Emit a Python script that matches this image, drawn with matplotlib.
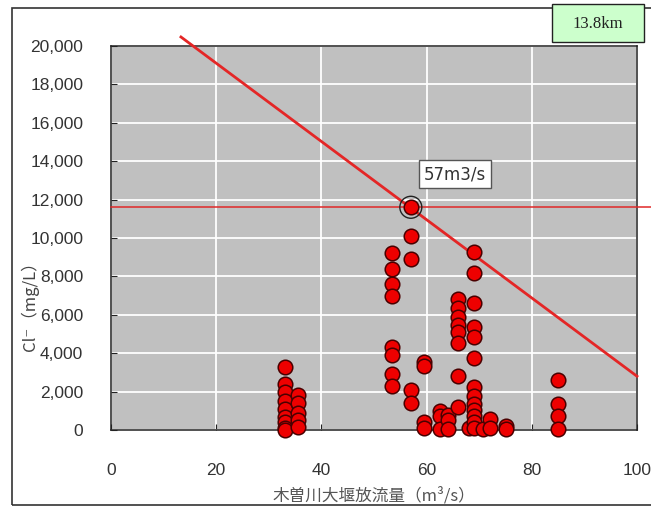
import matplotlib.pyplot as plt
from matplotlib.patches import Rectangle

plt.rcParams['font.family'] = ['Liberation Sans', 'DejaVu Sans']

# discharge at Kiso River weir (m3/s) vs chloride (mg/L)
flow = ([33] * 9 + [35.5] * 5 + [53.5] * 8 + [57] * 5 + [59.5] * 4 +
        [62.5] * 3 + [64] * 3 + [66] * 8 + [68] + [69] * 13 + [70.7] +
        [72] * 2 + [75] * 2 + [85] * 4)
chloride = [3300, 2400, 2000, 1500, 1100, 700, 400, 100, 0,
            1800, 1400, 900, 500, 150,
            9200, 8400, 7600, 7000, 4300, 3900, 2900, 2300,
            11600, 10100, 8900, 2100, 1400,
            3550, 3350, 400, 100,
            1000, 750, 50,
            800, 500, 50,
            6800, 6350, 5900, 5450, 5100, 4550, 2800, 1200,
            100,
            9250, 8200, 6600, 5350, 4850, 3750, 2250, 1750, 1350, 1050, 750, 400, 100,
            50,
            550, 100,
            200, 50,
            2600, 1350, 750, 50]

# envelope line and threshold
trend_x = [13.3, 100]
trend_y = [20470, 2800]
limit_flow = 57
limit_cl = 11600
limit_label = '57m3/s'
station_label = '13.8km'

xticks = [0, 20, 40, 60, 80, 100]
yticks = list(range(0, 20001, 2000))

fig = plt.figure(figsize=(6.51, 5.07), dpi=100)
ax = fig.add_axes([111 / 651, 77 / 507, 526 / 651, 384 / 507])
ax.set_facecolor('#c0c0c0')

ax.set_xlim(0, 100)
ax.set_ylim(0, 20000)
ax.set_xticks(xticks)
ax.set_yticks(yticks)
ax.set_yticklabels([f'{v:,}' for v in yticks])
ax.grid(True, color='white', linewidth=1.3)
ax.set_axisbelow(True)
ax.tick_params(direction='in', length=4, color='#222222', labelsize=12.5,
               labelcolor='#333333')
ax.tick_params(axis='y', pad=20)
ax.tick_params(axis='x', pad=24)
for sp in ax.spines.values():
    sp.set_color('#222222')
    sp.set_linewidth(1.1)

ax.plot([0, 103], [limit_cl, limit_cl], color='#e02828', lw=1.1,
        clip_on=False, zorder=3)
ax.plot(trend_x, trend_y, color='#e42626', lw=2.0, clip_on=False, zorder=3)

ax.scatter(flow, chloride, s=110, color='#ee0000', edgecolors='#4a0000',
           linewidths=1.1, zorder=4, clip_on=False)
ax.scatter([limit_flow], [limit_cl], s=250, facecolors='none',
           edgecolors='#222222', linewidths=1.0, zorder=5)

ax.text(65.4, 13330, limit_label, ha='center', va='center', fontsize=12,
        family=['DejaVu Sans'], color='#333333', zorder=6,
        bbox=dict(boxstyle='square,pad=0.3', facecolor='white',
                  edgecolor='#555555', linewidth=1.0))

ax.set_xlabel('木曽川大堰放流量（m³/s）', fontsize=12, color='#555555',
              family=['Noto Sans CJK JP', 'DejaVu Sans'], labelpad=6)
fig.text(30 / 651, 1 - 302 / 507, 'Cl⁻（mg/L）', rotation=90, ha='center',
         va='center', fontsize=12, color='#444444',
         family=['Noto Sans CJK JP', 'DejaVu Sans'])

# outer frame and station tag
fig.patches.append(Rectangle((12 / 651, 2 / 507), 1.0, 497 / 507,
                             transform=fig.transFigure, fill=False,
                             edgecolor='#333333', linewidth=1.2))
fig.patches.append(Rectangle((552 / 651, 1 - 42 / 507), 92 / 651, 38 / 507,
                             transform=fig.transFigure, facecolor='#ccffcc',
                             edgecolor='#222222', linewidth=1.0, zorder=5))
fig.text(598 / 651, 1 - 24 / 507, station_label, ha='center', va='center',
         fontsize=12, family=['Liberation Serif'], color='#222222', zorder=6)

fig.savefig('out.png', dpi=100)
